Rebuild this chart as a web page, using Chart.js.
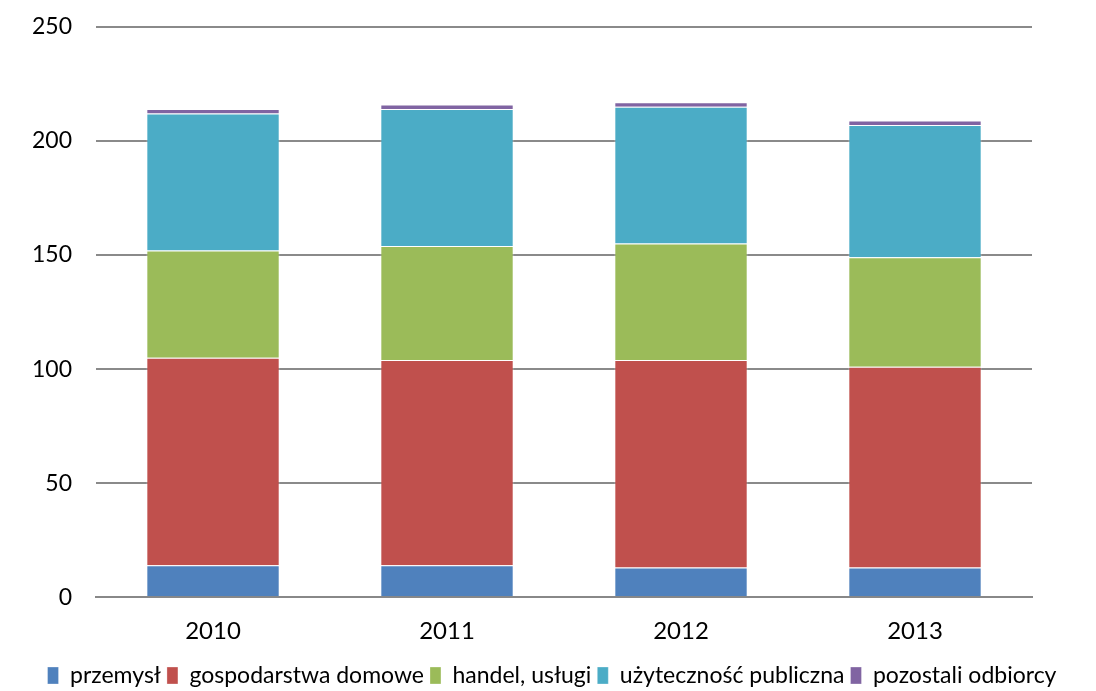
<!DOCTYPE html>
<html>
<head>
<meta charset="utf-8">
<script src="https://cdn.jsdelivr.net/npm/chart.js@4"></script>
<style>
html,body{margin:0;padding:0;background:#fff;overflow:hidden;}
#wrap{width:1096px;height:691px;overflow:hidden;position:relative;}
#c{position:absolute;left:0;top:-4px;}
</style>
</head>
<body>
<div id="wrap"><canvas id="c" width="1096" height="701"></canvas></div>
<script>
const categories = ["2010", "2011", "2012", "2013"];
const przemysl = [14, 14, 13, 13];
const gospodarstwa = [91, 90, 91, 88];
const handel = [47, 50, 51, 48];
const uzytecznosc = [60, 60, 60, 58];
const pozostali = [2, 2, 2, 2];
const yTicks = [0, 50, 100, 150, 200, 250];

const seriesNames = ["przemysł", "gospodarstwa domowe", "handel, usługi", "użyteczność publiczna", "pozostali odbiorcy"];
const seriesData = [przemysl, gospodarstwa, handel, uzytecznosc, pozostali];
const seriesColors = ["#4F81BD", "#C0504D", "#9BBB59", "#4BACC6", "#8064A2"];

const FONT = "Lato, 'Open Sans', sans-serif";

new Chart(document.getElementById('c'), {
  type: 'bar',
  data: {
    labels: categories,
    datasets: seriesNames.map((n, i) => ({
      label: n,
      data: seriesData[i],
      backgroundColor: seriesColors[i],
      borderColor: 'rgba(255,255,255,0.3)',
      borderWidth: 1,
      barPercentage: 0.57,
      categoryPercentage: 1.0
    }))
  },
  options: {
    responsive: false,
    animation: false,
    layout: { padding: { top: 0, right: 0, left: 8, bottom: 0 } },
    plugins: {
      legend: {
        position: 'bottom',
        labels: {
          font: { family: FONT, size: 23 },
          color: '#000',
          boxWidth: 11,
          boxHeight: 17,
          padding: 6,
          useBorderRadius: false
        }
      },
      tooltip: { enabled: false }
    },
    scales: {
      x: {
        stacked: true,
        grid: { display: false },
        border: { display: true, color: '#888', width: 2 },
        ticks: { font: { family: FONT, size: 24 }, color: '#000', padding: 12 }
      },
      y: {
        stacked: true,
        min: 0, max: 250,
        afterBuildTicks: (axis) => { axis.ticks = yTicks.map(v => ({ value: v })); },
        grid: { color: '#8a8a8a', lineWidth: 2, drawTicks: false },
        border: { display: false },
        ticks: { font: { family: FONT, size: 23, lineHeight: 0.6 }, color: '#000', padding: 24 }
      },
      spacer: {
        type: 'linear',
        position: 'right',
        display: true,
        grid: { display: false, drawTicks: false },
        border: { display: false },
        ticks: { display: false },
        afterFit: (s) => { s.width = 64; }
      }
    }
  }
});
</script>
</body>
</html>
